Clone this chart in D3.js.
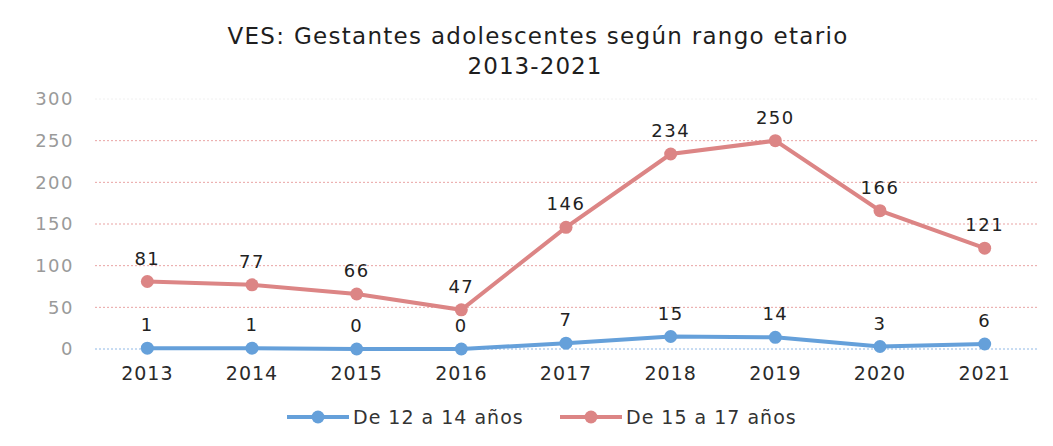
<!DOCTYPE html>
<html>
<head>
<meta charset="utf-8">
<script src="https://cdn.jsdelivr.net/npm/d3@7"></script>
<style>
  body { margin: 0; background: #fff; }
  svg { display: block; }
</style>
</head>
<body>
<script>
const years = ["2013", "2014", "2015", "2016", "2017", "2018", "2019", "2020", "2021"];
const age12to14 = [1, 1, 0, 0, 7, 15, 14, 3, 6];
const age15to17 = [81, 77, 66, 47, 146, 234, 250, 166, 121];
const yTicks = [0, 50, 100, 150, 200, 250, 300];
const seriesNames = ["De 12 a 14 años", "De 15 a 17 años"];
const seriesColors = ["#65a0da", "#dc8585"];

const width = 1053, height = 446;
const font = "DejaVu Sans";
const svg = d3.select("body").append("svg").attr("width", width).attr("height", height);

const xScale = d3.scaleBand().domain(years).range([95, 1037]);
const yScale = d3.scaleLinear().domain([0, 300]).range([349, 99]);

// title
const title = svg.append("g")
  .style("font-family", font).style("font-size", "23px").style("fill", "#1e1e1e");
const t1 = title.append("text").attr("x", 538).attr("y", 44).attr("text-anchor", "middle")
  .text("VES: Gestantes adolescentes según rango etario");
const t2 = title.append("text").attr("x", 535).attr("y", 74).attr("text-anchor", "middle")
  .text("2013-2021");
// stretch to the scanned width
[[t1, 621], [t2, 135]].forEach(([t, w]) => {
  const n = t.text().length;
  const cur = t.node().getComputedTextLength();
  t.style("letter-spacing", Math.max(0, (w - cur) / n) + "px");
});

// gridlines
svg.append("g").selectAll("line").data(yTicks.filter(d => d > 0)).enter().append("line")
  .attr("x1", 95).attr("x2", 1037)
  .attr("y1", d => yScale(d)).attr("y2", d => yScale(d))
  .style("stroke", d => d == 300 ? "#f0f0f0" : "#e9a3a3")
  .style("stroke-width", "1px")
  .style("stroke-dasharray", "2,2");
svg.append("line").attr("x1", 95).attr("x2", 1037)
  .attr("y1", yScale(0)).attr("y2", yScale(0))
  .style("stroke", "#8fb8e6").style("stroke-width", "1px").style("stroke-dasharray", "2,2");

// y axis
const yAxis = d3.axisLeft(yScale).tickValues(yTicks).tickSize(0).tickPadding(0);
const yg = svg.append("g").attr("transform", "translate(74,0)").call(yAxis);
yg.select(".domain").remove();
yg.selectAll("text").style("font-family", font).style("font-size", "18px")
  .style("letter-spacing", "1.5px").style("fill", "#9a9a9a");

// x axis
const xAxis = d3.axisBottom(xScale).tickSize(0).tickPadding(0);
const xg = svg.append("g").attr("transform", "translate(0,366)").call(xAxis);
xg.select(".domain").remove();
xg.selectAll("text").style("font-family", font).style("font-size", "19px")
  .style("letter-spacing", "1px").style("fill", "#2a2a2a");

const cx = d => xScale(d) + xScale.bandwidth() / 2;
const line = d3.line().x(d => cx(d.year)).y(d => yScale(d.value));

[age12to14, age15to17].forEach((vals, i) => {
  const pts = years.map((y, j) => ({ year: y, value: vals[j] }));
  svg.append("path").datum(pts).attr("d", line)
    .style("fill", "none").style("stroke", seriesColors[i]).style("stroke-width", "4px");
  svg.append("g").selectAll("circle").data(pts).enter().append("circle")
    .attr("cx", d => cx(d.year)).attr("cy", d => yScale(d.value)).attr("r", 6.5)
    .style("fill", seriesColors[i]);
  svg.append("g").selectAll("text").data(pts).enter().append("text")
    .attr("x", d => cx(d.year)).attr("y", d => yScale(d.value) - 17)
    .attr("text-anchor", "middle")
    .style("font-family", font).style("font-size", "18px")
    .style("letter-spacing", "1.5px").style("fill", "#222")
    .text(d => d.value);
});

// legend
const legend = svg.append("g").selectAll("g").data(seriesNames).enter().append("g")
  .attr("transform", (d, i) => "translate(" + (287 + i * 273) + ",417)");
legend.append("line").attr("x1", 0).attr("x2", 62).attr("y1", 0).attr("y2", 0)
  .style("stroke", (d, i) => seriesColors[i]).style("stroke-width", "4px");
legend.append("circle").attr("cx", 31).attr("cy", 0).attr("r", 6.5)
  .style("fill", (d, i) => seriesColors[i]);
legend.append("text").attr("x", 66).attr("y", 7)
  .style("font-family", font).style("font-size", "19px")
  .style("letter-spacing", "1px").style("fill", "#333")
  .text(d => d);
</script>
</body>
</html>
